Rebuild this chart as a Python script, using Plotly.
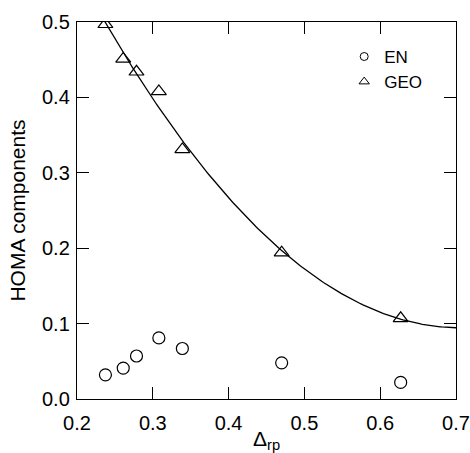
import numpy as np
import plotly.graph_objects as go

x_vals = [0.2375, 0.261, 0.2785, 0.308, 0.339, 0.470, 0.627]
en_vals = [0.032, 0.041, 0.057, 0.081, 0.067, 0.048, 0.022]
geo_vals = [0.497, 0.451, 0.434, 0.408, 0.331, 0.194, 0.107]

coef = np.polyfit(x_vals, geo_vals, 2)
xf = np.linspace(0.236, 0.7, 200)
yf = np.polyval(coef, xf)

FONT = "Liberation Sans, Arial, Helvetica"

fig = go.Figure()
fig.add_trace(go.Scatter(x=xf, y=yf, mode="lines", line=dict(color="black", width=1.3),
                         showlegend=False, hoverinfo="skip"))
fig.add_trace(go.Scatter(x=x_vals, y=en_vals, mode="markers", name="EN", showlegend=False,
                         marker=dict(symbol="circle-open", size=12, color="black", line=dict(width=1.2))))
fig.add_trace(go.Scatter(x=x_vals, y=geo_vals, mode="markers", name="GEO", showlegend=False,
                         marker=dict(symbol="triangle-up-open", size=13, color="black", line=dict(width=1.2))))
# legend entries (smaller symbols, as in the reference)
fig.add_trace(go.Scatter(x=[None], y=[None], mode="markers", name="EN",
                         marker=dict(symbol="circle-open", size=8, color="black", line=dict(width=1))))
fig.add_trace(go.Scatter(x=[None], y=[None], mode="markers", name="GEO",
                         marker=dict(symbol="triangle-up-open", size=9, color="black", line=dict(width=1))))

axis_common = dict(showline=True, linecolor="black", linewidth=1.4, mirror="ticks",
                   ticks="inside", ticklen=12, tickwidth=1.2, tickcolor="black",
                   showgrid=False, zeroline=False, automargin=False,
                   tickfont=dict(family=FONT, size=20, color="black"))

fig.update_layout(
    width=470, height=453,
    margin=dict(l=77, r=14, t=22, b=54),
    paper_bgcolor="white", plot_bgcolor="white",
    xaxis=dict(range=[0.2, 0.7], dtick=0.1, tick0=0.2, tickformat=".1f",
               ticklabelstandoff=6,
               title=dict(text="Δ<sub>rp</sub>", standoff=6,
                          font=dict(family=FONT, size=21, color="black")),
               **axis_common),
    yaxis=dict(range=[0, 0.5], dtick=0.1, tickformat=".1f",
               ticklabelstandoff=2,
               title=dict(text="HOMA components", standoff=10,
                          font=dict(family=FONT, size=21, color="black")),
               **axis_common),
    legend=dict(x=0.705, y=0.955, xanchor="left", yanchor="top", bgcolor="rgba(0,0,0,0)",
                font=dict(family=FONT, size=17, color="black"),
                itemsizing="trace", tracegroupgap=0),
)
fig.write_html("out.html")
